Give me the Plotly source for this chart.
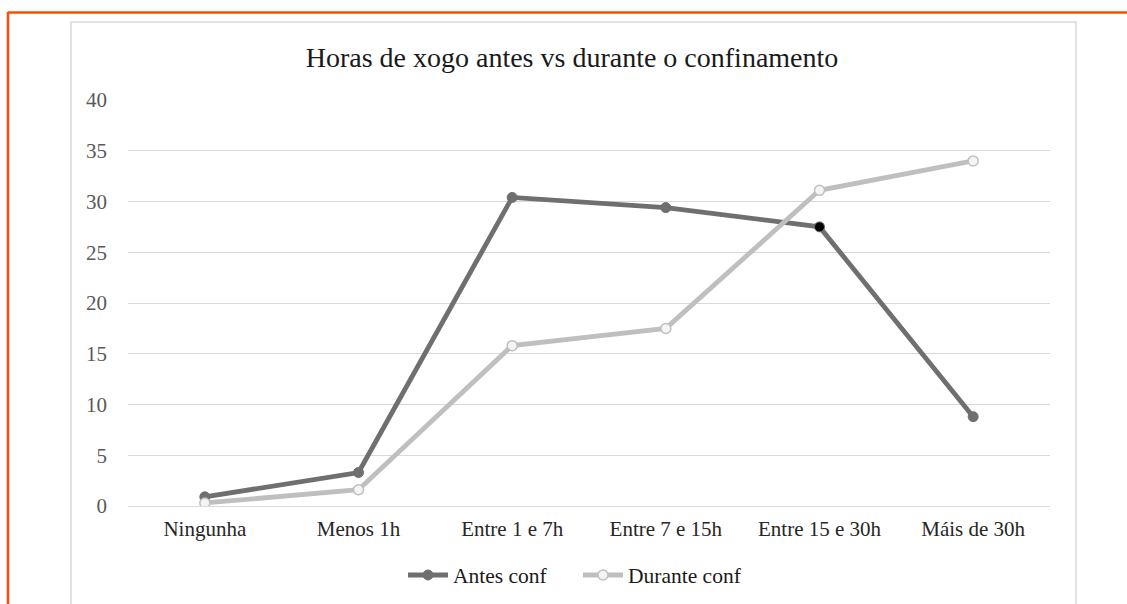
import plotly.graph_objects as go

categories = ["Ningunha", "Menos 1h", "Entre 1 e 7h", "Entre 7 e 15h", "Entre 15 e 30h", "Máis de 30h"]
antes_conf = [0.9, 3.3, 30.4, 29.4, 27.5, 8.8]
durante_conf = [0.3, 1.6, 15.8, 17.5, 31.1, 34.0]
y_ticks = [0, 5, 10, 15, 20, 25, 30, 35, 40]

W, H = 1127, 604
L, R, T, B = 128, 1050, 100, 506  # plot area in pixels


def px(x):
    return (x - L) / (R - L)


def py(y):
    return (B - y) / (B - T)


fig = go.Figure()
fig.add_trace(go.Scatter(
    x=categories, y=antes_conf, name="Antes conf", mode="lines+markers",
    line=dict(color="#6f6f6f", width=4.8),
    marker=dict(size=10, color=["#6f6f6f"] * 4 + ["#000000", "#6f6f6f"],
                line=dict(color="#6f6f6f", width=1)),
))
fig.add_trace(go.Scatter(
    x=categories, y=durante_conf, name="Durante conf", mode="lines+markers",
    line=dict(color="#bfbfbf", width=4.8),
    marker=dict(size=10, color="#f4f4f4", line=dict(color="#bfbfbf", width=1.5)),
))

shapes = [
    # inner chart frame (light gray)
    dict(type="rect", xref="paper", yref="paper", x0=px(71), x1=px(1076), y0=py(640), y1=py(22),
         line=dict(color="#d9d9d9", width=1.5), fillcolor="rgba(0,0,0,0)", layer="below"),
    # orange outer frame (top and left)
    dict(type="line", xref="paper", yref="paper", x0=px(8), x1=px(1130), y0=py(12.5), y1=py(12.5),
         line=dict(color="#ff4a0a", width=2.5)),
    dict(type="line", xref="paper", yref="paper", x0=px(8), x1=px(8), y0=py(12), y1=py(610),
         line=dict(color="#ff4a0a", width=2.5)),
]

fig.update_layout(
    width=W, height=H,
    margin=dict(l=L, r=W - R, t=T, b=H - B, autoexpand=False),
    paper_bgcolor="white", plot_bgcolor="white",
    font=dict(family="Liberation Serif, Times New Roman, serif", color="#262626"),
    title=dict(text="Horas de xogo antes vs durante o confinamento",
               xref="container", x=572 / W, xanchor="center", y=1 - 57 / H, yanchor="middle",
               font=dict(size=28, color="#1a1a1a")),
    xaxis=dict(range=[-0.5, 5.5], showgrid=False, showline=False, zeroline=False, ticks="",
               ticklabelstandoff=8,
               tickfont=dict(size=21, color="#262626"), fixedrange=True),
    yaxis=dict(range=[0, 40], tickvals=y_ticks, showgrid=True, gridcolor="#d9d9d9", gridwidth=1,
               zeroline=True, zerolinecolor="#d9d9d9", zerolinewidth=1, showline=False,
               ticks="", ticklabelstandoff=20,
               tickfont=dict(size=21, color="#595959"), fixedrange=True),
    legend=dict(orientation="h", x=px(578), xanchor="center", y=py(575), yanchor="middle",
                font=dict(size=21.5, color="#1a1a1a"), itemwidth=40, tracegroupgap=0,
                entrywidth=120, bgcolor="rgba(0,0,0,0)"),
    showlegend=True,
    shapes=shapes,
)

fig.write_html("out.html", config={"displayModeBar": False},
               post_script="document.body.style.margin='0';")
